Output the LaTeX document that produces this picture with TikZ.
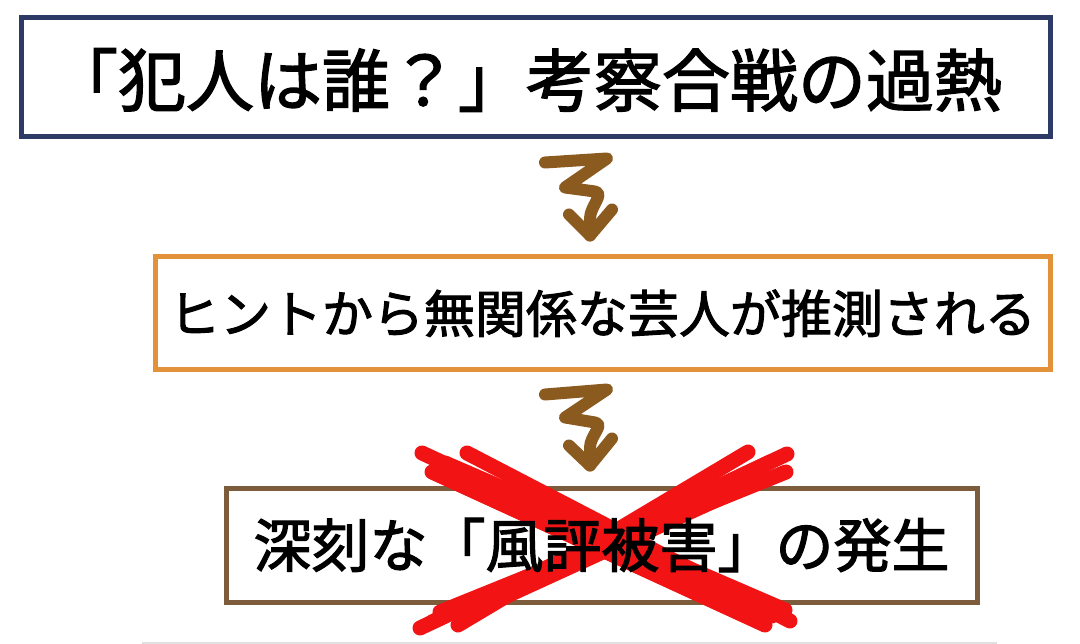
\documentclass[tikz,border=0pt]{standalone}
\usepackage{fontspec}
\newfontfamily\jp[FakeBold=2]{Noto Sans CJK JP}
\usetikzlibrary{calc}
\definecolor{navy}{HTML}{2E3A66}
\definecolor{orng}{HTML}{E3923A}
\definecolor{brwn}{HTML}{7D5C3C}
\definecolor{arrowbrown}{HTML}{8A5A1E}
\definecolor{xred}{HTML}{F21414}
\tikzset{
  box/.style={draw, line width=5pt, inner sep=0pt},
  label/.style={inner sep=0pt, font=\jp},
  zig/.style={draw=arrowbrown, line width=12pt, line cap=round, line join=round},
  xstroke/.style={draw=xred, line width=15pt, line cap=round},
}
\begin{document}
\begin{tikzpicture}[x=1pt,y=-1pt]
\useasboundingbox (0,0) rectangle (1080,644);
\fill[white] (0,0) rectangle (1080,644);
\draw[black!12, line width=2pt] (142,643) -- (997,643);

\node[box, draw=navy, minimum width=1029pt, minimum height=119pt] (b1) at (535.5,77.5) {};
\node[label, font=\jp\fontsize{68}{72}\selectfont] (t1) at (526,80) {「犯人は誰？」考察合戦の過熱};
\node[box, draw=orng, minimum width=895pt, minimum height=113pt] (b2) at (602.5,313.5) {};
\node[label, font=\jp\fontsize{51}{54}\selectfont] (t2) at (b2.center) {ヒントから無関係な芸人が推測される};
\node[box, draw=brwn, minimum width=751pt, minimum height=114pt] (b3) at (601.5,545) {};

% zigzag arrow 1
\coordinate (a1s) at ($(b1.south)+(9.5,23)$);
\coordinate (a1e) at ($(b2.north)+(-12.5,-19)$);
\path[zig] (a1s) -- ++(62,-4) -- ++(-42,29) -- ++(30,4)
  .. controls ++(10,2) and ++(0,-12) .. ++(-5,27) -- (a1e);
\path[zig] ($(a1e)+(-21,-21)$) -- (a1e) -- ($(a1e)+(22,-26)$);

% zigzag arrow 2
\coordinate (a2s) at ($(b2.south)+(-57.5,22)$);
\coordinate (a2e) at ($(b3.north)+(-11.5,-20)$);
\path[zig] (a2s) -- ++(62,-5) -- ++(-42,28) -- ++(30,5)
  .. controls ++(10,2) and ++(0,-12) .. ++(-5,25) -- (a2e);
\path[zig] ($(a2e)+(-21,-20)$) -- (a2e) -- ($(a2e)+(22,-27)$);

% red cross
\path[xstroke] (422,453) -- (772,616);
\path[xstroke] (467,453) -- (790,621);
\path[xstroke] (432,472) -- (752,618);
\path[xstroke] (445,463) -- (785,610);
\path[xstroke] (450,480) -- (765,625);
\path[xstroke] (787,454) -- (420,628);
\path[xstroke] (748,452) -- (458,625);
\path[xstroke] (786,472) -- (440,612);
\path[xstroke] (770,462) -- (432,622);
\path[xstroke] (760,480) -- (465,615);

\node[label, font=\jp\fontsize{58}{60}\selectfont] (t3) at (b3.center) {深刻な「風評被害」の発生};
\end{tikzpicture}
\end{document}
